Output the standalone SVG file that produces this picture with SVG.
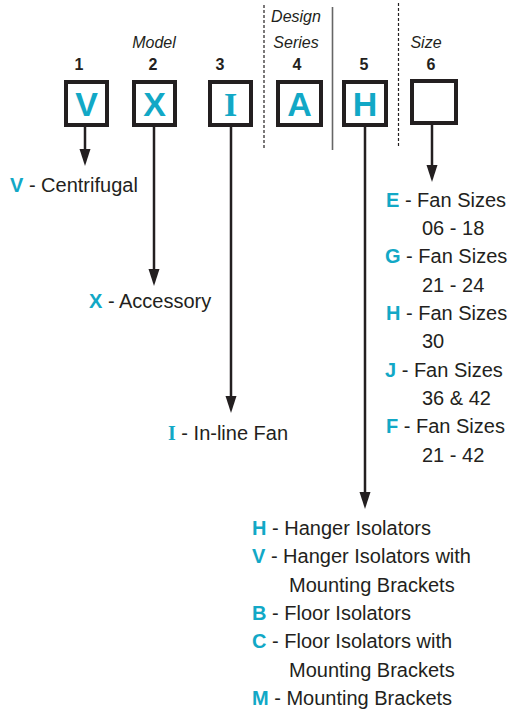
<svg xmlns="http://www.w3.org/2000/svg" width="513" height="710" viewBox="0 0 513 710">
<style>
.box{fill:#fff;stroke:#231f20;stroke-width:4}
.bl{font-family:"Liberation Sans",Arial,sans-serif;font-weight:bold;font-size:34px;fill:#12a8c6;text-anchor:middle}
.bls{font-family:"Liberation Serif","Times New Roman",serif;font-weight:bold;font-size:34px;fill:#12a8c6;text-anchor:middle}
.num{font-family:"Liberation Sans",Arial,sans-serif;font-weight:bold;font-size:16px;fill:#231f20;text-anchor:middle}
.hd{font-family:"Liberation Sans",Arial,sans-serif;font-style:italic;font-size:16px;fill:#231f20;text-anchor:middle}
.t{font-family:"Liberation Sans",Arial,sans-serif;font-size:20px;fill:#231f20}
.k{font-weight:bold;fill:#12a8c6}
.ks{font-family:"Liberation Serif","Times New Roman",serif;font-weight:bold;fill:#12a8c6}
.conn{stroke:#231f20;stroke-width:2.5;fill:none}
.dash{stroke:#231f20;stroke-width:1.2;stroke-dasharray:3,2;fill:none}
.sep{stroke:#666;stroke-width:1.6;fill:none}
</style>
<defs>
<marker id="arr" markerUnits="userSpaceOnUse" markerWidth="18" markerHeight="12" viewBox="0 0 18 12" refX="7" refY="6" orient="auto">
<path d="M0,0.5 L17,6 L0,11.5 z" fill="#231f20"/>
</marker>
</defs>
<g id="separators">
<line class="dash" x1="264" y1="5" x2="264" y2="150"/>
<line class="sep" x1="332.5" y1="7" x2="332.5" y2="150"/>
<line class="dash" x1="398.5" y1="3" x2="398.5" y2="147"/>
</g>
<g id="headers">
<text class="hd" x="154" y="48">Model</text>
<text class="hd" x="296" y="22">Design</text>
<text class="hd" x="296" y="48">Series</text>
<text class="hd" x="426" y="48">Size</text>
<text class="num" x="79" y="70">1</text>
<text class="num" x="153" y="70">2</text>
<text class="num" x="220" y="70">3</text>
<text class="num" x="297" y="70">4</text>
<text class="num" x="364" y="70">5</text>
<text class="num" x="431" y="70">6</text>
</g>
<g id="connectors">
<line class="conn" x1="85" y1="127" x2="85" y2="156" marker-end="url(#arr)"/>
<line class="conn" x1="154" y1="127" x2="154" y2="276" marker-end="url(#arr)"/>
<line class="conn" x1="231" y1="127" x2="231" y2="403" marker-end="url(#arr)"/>
<line class="conn" x1="365" y1="127" x2="365" y2="499" marker-end="url(#arr)"/>
<line class="conn" x1="432" y1="125" x2="432" y2="172" marker-end="url(#arr)"/>
</g>
<g id="box1"><rect class="box" x="66" y="82" width="41" height="43"/><text class="bl" x="86.5" y="116">V</text></g>
<g id="box2"><rect class="box" x="134" y="82" width="41" height="43"/><text class="bl" x="154.5" y="116">X</text></g>
<g id="box3"><rect class="box" x="210" y="82" width="41" height="43"/><text class="bls" x="230.5" y="116">I</text></g>
<g id="box4"><rect class="box" x="278" y="82" width="43" height="43"/><text class="bl" x="299.5" y="116">A</text></g>
<g id="box5"><rect class="box" x="344" y="82" width="42" height="43"/><text class="bl" x="365" y="116">H</text></g>
<g id="box6"><rect class="box" x="412" y="81" width="44" height="42"/></g>
<g id="opt1"><text class="t" x="10" y="192"><tspan class="k">V</tspan> - Centrifugal</text></g>
<g id="opt2"><text class="t" x="89" y="308"><tspan class="k">X</tspan> - Accessory</text></g>
<g id="opt3"><text class="t" x="168" y="440"><tspan class="ks">I</tspan> - In-line Fan</text></g>
<g id="opt6">
<text class="t" x="386" y="207"><tspan class="k">E</tspan> - Fan Sizes</text>
<text class="t" x="422" y="235">06 - 18</text>
<text class="t" x="385" y="263"><tspan class="k">G</tspan> - Fan Sizes</text>
<text class="t" x="422" y="292">21 - 24</text>
<text class="t" x="386" y="320"><tspan class="k">H</tspan> - Fan Sizes</text>
<text class="t" x="422" y="348">30</text>
<text class="t" x="385" y="377"><tspan class="k">J</tspan> - Fan Sizes</text>
<text class="t" x="422" y="405">36 &amp; 42</text>
<text class="t" x="386" y="433"><tspan class="k">F</tspan> - Fan Sizes</text>
<text class="t" x="422" y="462">21 - 42</text>
</g>
<g id="opt5">
<text class="t" x="252" y="535"><tspan class="k">H</tspan> - Hanger Isolators</text>
<text class="t" x="252" y="563"><tspan class="k">V</tspan> - Hanger Isolators with</text>
<text class="t" x="289" y="592">Mounting Brackets</text>
<text class="t" x="252" y="620"><tspan class="k">B</tspan> - Floor Isolators</text>
<text class="t" x="252" y="648"><tspan class="k">C</tspan> - Floor Isolators with</text>
<text class="t" x="289" y="677">Mounting Brackets</text>
<text class="t" x="252" y="705"><tspan class="k">M</tspan> - Mounting Brackets</text>
</g>
</svg>
